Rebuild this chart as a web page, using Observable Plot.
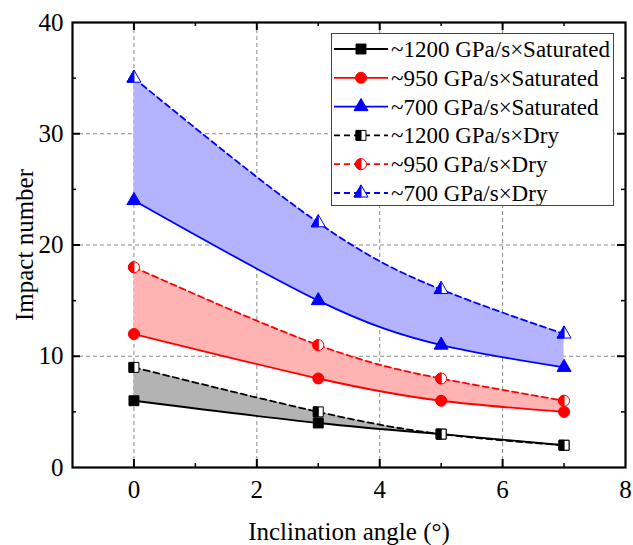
<!DOCTYPE html>
<html>
<head>
<meta charset="utf-8">
<script src="https://cdn.jsdelivr.net/npm/d3@7"></script>
<script src="https://cdn.jsdelivr.net/npm/@observablehq/plot@0.6"></script>
<style>
  html, body { margin: 0; padding: 0; background: #fff; }
  #wrap { position: relative; width: 633px; height: 545px; font-family: "Liberation Serif", "Times New Roman", serif; }
  #legend { position: absolute; left: 331px; top: 33px; width: 281px; height: 171px; border: 1px solid #444; background: #fff; }
</style>
</head>
<body>
<div id="wrap"><div id="legend"></div></div>
<script>
// ---- data ----
const angles = [0, 3, 5, 7];
const sat1200 = [6, 4, 3, 2];
const sat950 = [12, 8, 6, 5];
const sat700 = [24, 15, 11, 9];
const dry1200 = [9, 5, 3, 2];
const dry950 = [18, 11, 8, 6];
const dry700 = [35, 22, 16, 12];
const seriesNames = ["~1200 GPa/s×Saturated", "~950 GPa/s×Saturated", "~700 GPa/s×Saturated",
                     "~1200 GPa/s×Dry", "~950 GPa/s×Dry", "~700 GPa/s×Dry"];
const xTickLabels = [0, 2, 4, 6, 8];
const yTickLabels = [0, 10, 20, 30, 40];

// ---- symbols ----
const halfSquare = { draw(ctx, size) { const s = Math.sqrt(size) / 2; ctx.moveTo(-s, -s); ctx.lineTo(0, -s); ctx.lineTo(0, s); ctx.lineTo(-s, s); ctx.closePath(); } };
const halfCircle = { draw(ctx, size) { const r = Math.sqrt(size / Math.PI); ctx.moveTo(0, -r); ctx.arc(0, 0, r, -Math.PI / 2, Math.PI / 2, true); ctx.closePath(); } };
const sqrt3 = Math.sqrt(3);
const halfTriangle = { draw(ctx, size) { const y = -Math.sqrt(size / (sqrt3 * 3)); ctx.moveTo(0, y * 2); ctx.lineTo(sqrt3 * y, -y); ctx.lineTo(0, -y); ctx.closePath(); } };

const groups = [
  { sat: sat1200, dry: dry1200, color: "#000000", fill: "#b3b3b3", sym: "square", half: halfSquare, r: 5.6 },
  { sat: sat950, dry: dry950, color: "#ff0000", fill: "#ffb3b3", sym: "circle", half: halfCircle, r: 5.5 },
  { sat: sat700, dry: dry700, color: "#0000ff", fill: "#b3b3ff", sym: "triangle", half: halfTriangle, r: 5.2 }
];
const rows = (g) => angles.map((a, i) => ({ x: a, sat: g.sat[i], dry: g.dry[i] }));

const W = 633, H = 545, mL = 72, mR = 8, mT = 22, mB = 78;
const fw = W - mL - mR, fh = H - mT - mB;
const curve = "natural";
const FONT = "Liberation Serif, Times New Roman, serif";
const marks = [];

marks.push(Plot.gridX([0, 2, 4, 6], { x: d => d, stroke: "#8a8a8a", strokeOpacity: 1, strokeDasharray: "4,3", strokeWidth: 1 }));
marks.push(Plot.gridY([10, 20, 30], { y: d => d, stroke: "#8a8a8a", strokeOpacity: 1, strokeDasharray: "4,3", strokeWidth: 1 }));

for (const g of groups) {
  marks.push(Plot.areaY(rows(g), { x: "x", y1: "sat", y2: "dry", curve, fill: g.fill, fillOpacity: 1 }));
}
for (const g of groups) {
  marks.push(Plot.line(rows(g), { x: "x", y: "sat", curve, stroke: g.color, strokeWidth: 1.8 }));
  marks.push(Plot.line(rows(g), { x: "x", y: "dry", curve, stroke: g.color, strokeWidth: 1.8, strokeDasharray: "6,4" }));
}
for (const g of groups) {
  marks.push(Plot.dot(rows(g), { x: "x", y: "sat", symbol: g.sym, r: g.r, fill: g.color, stroke: g.color, strokeWidth: 1 }));
  marks.push(Plot.dot(rows(g), { x: "x", y: "dry", symbol: g.sym, r: g.r, fill: "#fff", stroke: g.color, strokeWidth: 1 }));
  marks.push(Plot.dot(rows(g), { x: "x", y: "dry", symbol: g.half, r: g.r, fill: g.color, stroke: g.color, strokeWidth: 1 }));
}

// inward ticks (major and minor), on all four sides
const xMaj = [0, 2, 4, 6], xMin = [1, 3, 5, 7];
const yMaj = [10, 20, 30], yMin = [5, 15, 25, 35];
marks.push(Plot.tickX(xMaj, { x: d => d, insetTop: fh - 8, stroke: "#000", strokeWidth: 2 }));
marks.push(Plot.tickX(xMin, { x: d => d, insetTop: fh - 4, stroke: "#000", strokeWidth: 1.5 }));
marks.push(Plot.tickX(xMaj, { x: d => d, insetBottom: fh - 8, stroke: "#000", strokeWidth: 2 }));
marks.push(Plot.tickX(xMin, { x: d => d, insetBottom: fh - 4, stroke: "#000", strokeWidth: 1.5 }));
marks.push(Plot.tickY(yMaj, { y: d => d, insetRight: fw - 8, stroke: "#000", strokeWidth: 2 }));
marks.push(Plot.tickY(yMin, { y: d => d, insetRight: fw - 4, stroke: "#000", strokeWidth: 1.5 }));
marks.push(Plot.tickY(yMaj, { y: d => d, insetLeft: fw - 8, stroke: "#000", strokeWidth: 2 }));
marks.push(Plot.tickY(yMin, { y: d => d, insetLeft: fw - 4, stroke: "#000", strokeWidth: 1.5 }));

marks.push(Plot.axisX({ ticks: xTickLabels, tickSize: 0, tickPadding: 13, label: null, fontSize: 25, fill: "#000" }));
marks.push(Plot.axisY({ ticks: yTickLabels, tickSize: 0, tickPadding: 9, label: null, fontSize: 25, fill: "#000" }));
marks.push(Plot.frame({ stroke: "#000", strokeWidth: 2.2 }));
marks.push(Plot.text(["Inclination angle (°)"], { frameAnchor: "bottom", lineAnchor: "middle", textAnchor: "middle", dy: 64, fontSize: 25, fill: "#000" }));
marks.push(Plot.text(["Impact number"], { frameAnchor: "left", lineAnchor: "middle", textAnchor: "middle", dx: -48, rotate: -90, fontSize: 25, fill: "#000" }));

const chart = Plot.plot({
  width: W, height: H,
  marginLeft: mL, marginRight: mR, marginTop: mT, marginBottom: mB,
  x: { domain: [-1, 8] },
  y: { domain: [0, 40] },
  style: { fontFamily: FONT, fontSize: "24px", color: "#000", background: "#fff" },
  marks
});
const wrap = document.getElementById("wrap");
wrap.insertBefore(chart, wrap.firstChild);

// ---- legend ----
const legendItems = [
  { name: seriesNames[0], g: groups[0], dry: false },
  { name: seriesNames[1], g: groups[1], dry: false },
  { name: seriesNames[2], g: groups[2], dry: false },
  { name: seriesNames[3], g: groups[0], dry: true },
  { name: seriesNames[4], g: groups[1], dry: true },
  { name: seriesNames[5], g: groups[2], dry: true }
];
const symMap = { square: d3.symbolSquare, circle: d3.symbolCircle, triangle: d3.symbolTriangle };
const svg = d3.select("#legend").append("svg").attr("width", 281).attr("height", 171).style("display", "block");
legendItems.forEach((it, i) => {
  const y = 15 + i * 28.8;
  const gEl = svg.append("g").attr("transform", `translate(0,${y})`);
  gEl.append("line").attr("x1", 2).attr("x2", 56).attr("y1", 0).attr("y2", 0)
    .attr("stroke", it.g.color).attr("stroke-width", 1.8).attr("stroke-dasharray", it.dry ? "6,4" : null);
  const size = Math.PI * it.g.r * it.g.r;
  const m = gEl.append("g").attr("transform", "translate(29,0)");
  if (!it.dry) {
    m.append("path").attr("d", d3.symbol(symMap[it.g.sym], size)()).attr("fill", it.g.color).attr("stroke", it.g.color);
  } else {
    m.append("path").attr("d", d3.symbol(symMap[it.g.sym], size)()).attr("fill", "#fff").attr("stroke", it.g.color);
    m.append("path").attr("d", d3.symbol(it.g.half, size)()).attr("fill", it.g.color).attr("stroke", it.g.color);
  }
  gEl.append("text").attr("x", 59).attr("y", 0).attr("dy", "0.35em")
    .attr("font-family", FONT).attr("font-size", 23).attr("fill", "#000")
    .text(it.name);
});
</script>
</body>
</html>
